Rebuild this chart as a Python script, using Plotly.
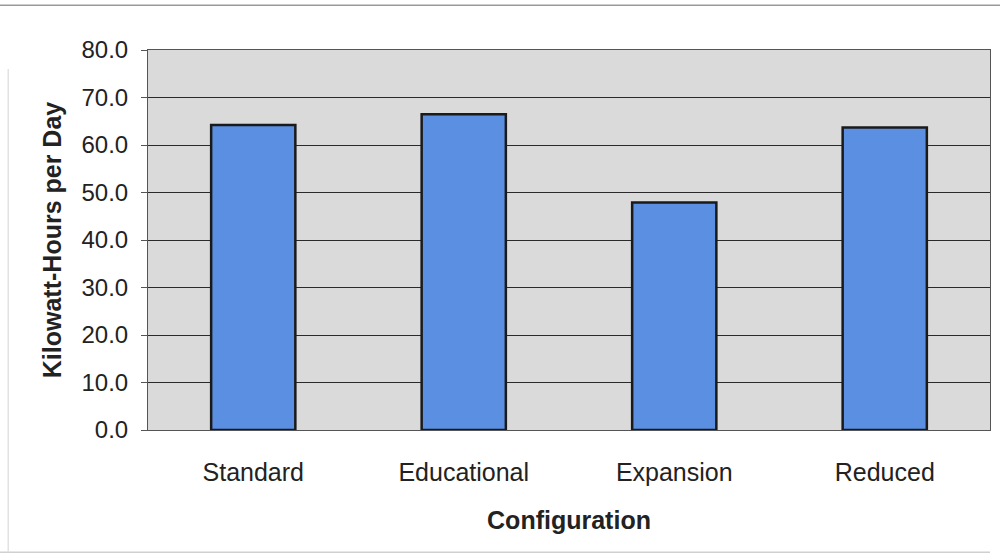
import plotly.graph_objects as go

# Daily energy use by configuration
configurations = ["Standard", "Educational", "Expansion", "Reduced"]
kwh_per_day = [64.2, 66.5, 47.9, 63.7]
y_ticks = [0, 10, 20, 30, 40, 50, 60, 70, 80]
y_tick_labels = [f"{v:.1f}" for v in y_ticks]

fig = go.Figure(
    go.Bar(
        x=configurations,
        y=kwh_per_day,
        width=0.40,
        marker=dict(color="#5b8fe2", line=dict(color="#1a1a1a", width=2.5)),
    )
)

fig.update_layout(
    width=1000,
    height=558,
    margin=dict(l=148, r=10, t=50, b=128),
    paper_bgcolor="white",
    plot_bgcolor="#dadada",
    font=dict(family="Liberation Sans, Arial, sans-serif", size=24, color="#222222"),
    showlegend=False,
)

fig.update_xaxes(
    showgrid=False,
    showline=True,
    linecolor="#555555",
    linewidth=1,
    mirror=True,
    ticks="",
    tickfont=dict(size=25),
    ticklabelstandoff=20,
    title=dict(text="<b>Configuration</b>", font=dict(size=25), standoff=26),
)

fig.update_yaxes(
    range=[0, 80],
    tickvals=y_ticks,
    ticktext=y_tick_labels,
    showgrid=True,
    gridcolor="#2a2a2a",
    gridwidth=1,
    showline=True,
    linecolor="#555555",
    linewidth=1,
    mirror=True,
    ticks="outside",
    ticklen=6,
    tickcolor="#555555",
    tickfont=dict(size=24),
    ticklabelstandoff=8,
    zeroline=False,
    title=dict(text="<b>Kilowatt-Hours per Day</b>", font=dict(size=25), standoff=12),
)

# Light frame around the chart
fig.add_shape(
    type="line", xref="paper", yref="paper",
    x0=-0.176, x1=1.012, y0=1.118, y1=1.118,
    line=dict(color="#9a9a9a", width=1.5),
)
fig.add_shape(
    type="line", xref="paper", yref="paper",
    x0=-0.176, x1=1.0, y0=-0.322, y1=-0.322,
    line=dict(color="#d0d0d0", width=1.5),
)
fig.add_shape(
    type="line", xref="paper", yref="paper",
    x0=-0.166, x1=-0.166, y0=-0.322, y1=0.95,
    line=dict(color="#e2e2e2", width=1.5),
)

fig.write_html("out.html")
